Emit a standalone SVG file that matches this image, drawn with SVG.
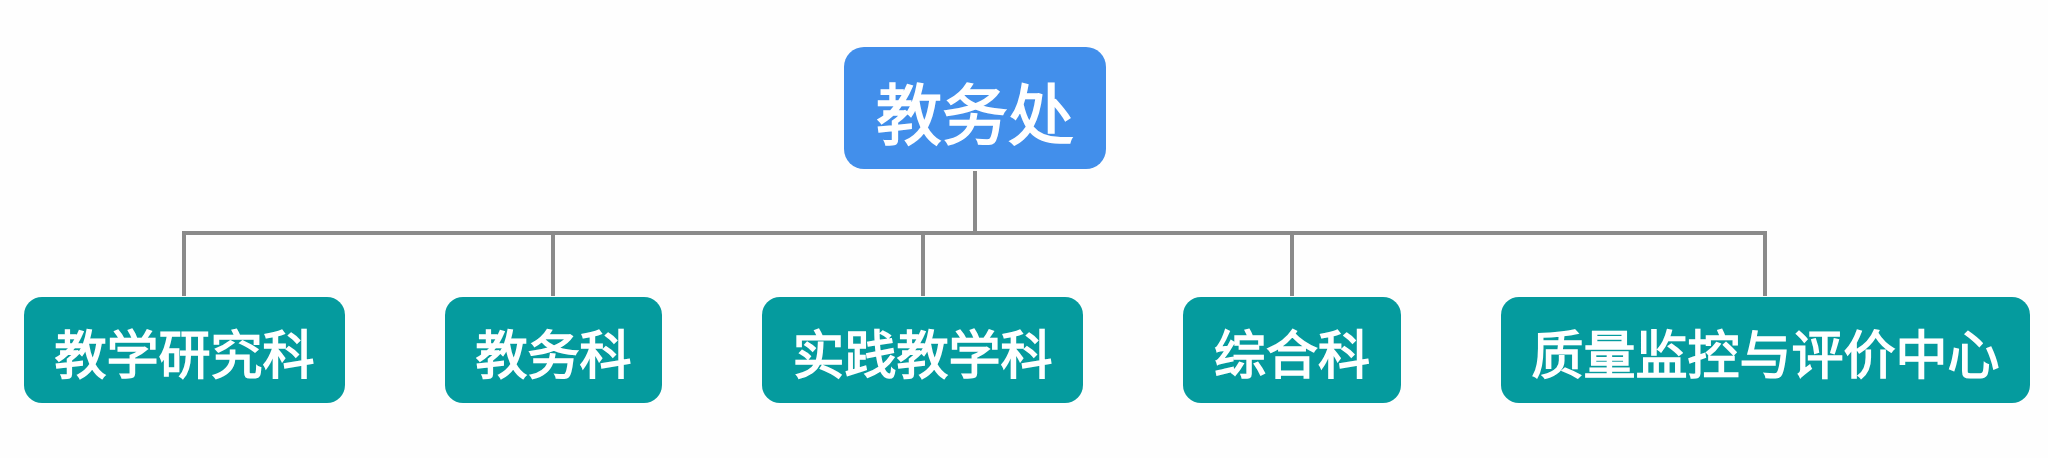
<svg xmlns="http://www.w3.org/2000/svg" width="2048" height="458" viewBox="0 0 2048 458">
<style>
.top{fill:#428FEB}
.sub{fill:#059B9E}
.t{fill:#fff;font-family:"Noto Sans CJK SC",sans-serif;font-weight:400;text-anchor:middle;dominant-baseline:central;stroke:#fff;stroke-width:1.6}
.c{fill:none;stroke:#8a8a8a;stroke-width:4}
</style>
<rect width="2048" height="458" fill="#fefefe"/>
<g id="connectors" class="c">
<line x1="975" y1="171" x2="975" y2="233"/>
<polyline points="184,296 184,233 1765,233 1765,296"/>
<line x1="553" y1="233" x2="553" y2="296"/>
<line x1="923" y1="233" x2="923" y2="296"/>
<line x1="1292" y1="233" x2="1292" y2="296"/>
</g>
<g id="n0"><rect class="top" x="844" y="47" width="262" height="122" rx="20"/><text class="t" x="975" y="110" font-size="66">教务处</text></g>
<g id="n1"><rect class="sub" x="24" y="297" width="321" height="106" rx="18"/><text class="t" x="184.5" y="351" font-size="52">教学研究科</text></g>
<g id="n2"><rect class="sub" x="445" y="297" width="217" height="106" rx="18"/><text class="t" x="553.5" y="351" font-size="52">教务科</text></g>
<g id="n3"><rect class="sub" x="762" y="297" width="321" height="106" rx="18"/><text class="t" x="922.5" y="351" font-size="52">实践教学科</text></g>
<g id="n4"><rect class="sub" x="1183" y="297" width="218" height="106" rx="18"/><text class="t" x="1292" y="351" font-size="52">综合科</text></g>
<g id="n5"><rect class="sub" x="1501" y="297" width="529" height="106" rx="18"/><text class="t" x="1765.5" y="351" font-size="52">质量监控与评价中心</text></g>
</svg>
